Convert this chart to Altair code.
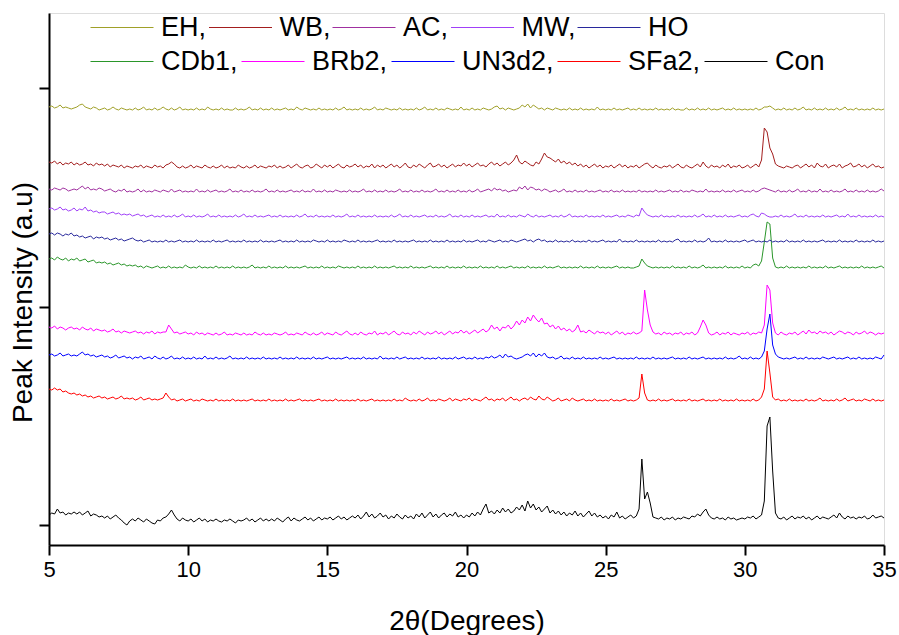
import altair as alt
import pandas as pd

# ---- data (x grid 5.0..35.0 step 0.1) ----
series_names = ["EH", "WB", "AC", "MW", "HO", "CDb1", "BRb2", "UN3d2", "SFa2", "Con"]
series_colors = ["#A0A028", "#A31E1E", "#A030A0", "#A040F8", "#28289C",
                 "#2A962A", "#FF00FF", "#0000FF", "#FF0000", "#000000"]
# stacking offsets of each pattern (a.u.)
offsets = [415, 357, 333, 308, 283, 257, 190, 166, 124, 4]
x_start = 5.0
x_step = 0.1
x_ticks = [5, 10, 15, 20, 25, 30, 35]
y_ticks = [0, 218, 437]

EH = [
    3, 4, 2, 3, 5, 2, 3, 2, 1, 2,   # 5
    3, 5, 6, 3, 2, 1, 3, 2, 0, 1,   # 6
    2, 0, 1, 3, 1, 0, 2, 1, 0, 1,   # 7
    0, 2, 0, 1, 3, 0, 1, 0, 2, 0,   # 8
    1, 3, 1, 0, 2, 0, 1, 3, 0, 1,   # 9
    0, 1, 0, 2, 0, 1, 0, 3, 1, 0,   # 10
    1, 0, 2, 0, 1, 0, 0, 2, 0, 1,   # 11
    0, 1, 3, 0, 1, 0, 2, 0, 1, 0,   # 12
    2, 0, 1, 0, 1, 2, 0, 1, 0, 3,   # 13
    1, 0, 2, 1, 0, 1, 0, 2, 0, 1,   # 14
    0, 1, 0, 2, 0, 1, 3, 0, 1, 0,   # 15
    1, 0, 2, 0, 1, 0, 1, 3, 0, 1,   # 16
    0, 2, 1, 0, 1, 0, 2, 0, 1, 0,   # 17
    1, 0, 2, 0, 1, 3, 0, 1, 0, 2,   # 18
    0, 1, 0, 2, 1, 0, 1, 0, 3, 0,   # 19
    1, 0, 2, 0, 1, 0, 2, 1, 0, 1,   # 20
    3, 4, 1, 2, 0, 2, 1, 0, 1, 2,   # 21
    5, 3, 6, 2, 5, 3, 1, 2, 0, 2,   # 22
    1, 0, 2, 1, 0, 1, 0, 2, 0, 1,   # 23
    0, 2, 0, 1, 0, 1, 0, 3, 0, 1,   # 24
    0, 1, 0, 2, 0, 1, 0, 1, 2, 0,   # 25
    1, 0, 2, 0, 1, 0, 1, 0, 2, 0,   # 26
    1, 0, 1, 0, 2, 0, 1, 0, 0, 2,   # 27
    0, 1, 0, 2, 0, 1, 0, 2, 0, 1,   # 28
    0, 1, 2, 0, 1, 0, 2, 0, 1, 0,   # 29
    1, 0, 1, 0, 2, 0, 1, 3, 3, 4,   # 30
    2, 0, 1, 0, 2, 0, 1, 0, 2, 0,   # 31
    1, 3, 0, 1, 0, 2, 0, 1, 0, 2,   # 32
    0, 1, 0, 2, 0, 1, 3, 0, 1, 0,   # 33
    2, 0, 1, 0, 1, 0, 2, 0, 1, 0,   # 34
    1,                              # 35
]

WB = [
    6, 5, 7, 4, 6, 3, 5, 4, 6, 3,
    5, 3, 4, 6, 3, 4, 2, 5, 3, 4,
    2, 4, 1, 3, 2, 1, 3, 0, 2, 1,
    0, 2, 1, 3, 0, 2, 1, 0, 3, 1,
    2, 0, 3, 4, 6, 4, 1, 0, 2, 0,
    1, 3, 0, 2, 1, 0, 3, 1, 0, 2,
    0, 1, 3, 0, 2, 0, 1, 0, 3, 1,
    0, 2, 0, 1, 3, 0, 2, 1, 0, 2,
    1, 3, 0, 2, 0, 1, 3, 0, 2, 4,
    1, 0, 2, 3, 0, 1, 4, 2, 0, 3,
    1, 3, 0, 2, 4, 1, 0, 3, 1, 2,
    4, 1, 3, 0, 2, 1, 4, 0, 3, 1,
    3, 0, 2, 4, 1, 3, 0, 2, 5, 1,
    0, 3, 1, 4, 2, 0, 3, 5, 1, 2,
    4, 1, 3, 0, 2, 4, 1, 3, 2, 5,
    2, 4, 1, 3, 5, 2, 3, 1, 4, 6,
    3, 5, 2, 4, 6, 3, 5, 8, 13, 6,
    4, 7, 5, 3, 2, 6, 4, 9, 15, 11,
    10, 8, 6, 9, 5, 7, 4, 6, 3, 5,
    2, 4, 1, 3, 0, 2, 4, 1, 3, 0,
    2, 1, 3, 0, 2, 4, 1, 3, 0, 2,
    1, 3, 0, 2, 4, 5, 2, 0, 3, 1,
    0, 2, 1, 3, 0, 2, 4, 1, 0, 3,
    1, 0, 2, 4, 1, 6, 2, 0, 3, 1,
    2, 0, 3, 1, 4, 0, 2, 1, 3, 0,
    1, 3, 0, 2, 4, 1, 8, 40, 36, 20,
    14, 4, 2, 1, 0, 2, 1, 0, 2, 3,
    0, 2, 4, 1, 3, 0, 5, 2, 1, 4,
    0, 2, 3, 1, 4, 0, 2, 3, 5, 1,
    2, 4, 1, 3, 0, 2, 4, 1, 2, 0,
    1,
]

AC = [
    3, 2, 4, 3, 2, 4, 3, 1, 2, 3,
    2, 4, 6, 3, 5, 2, 3, 2, 4, 3,
    1, 2, 3, 1, 0, 2, 1, 3, 0, 1,
    0, 1, 3, 0, 2, 0, 1, 0, 2, 1,
    0, 2, 1, 0, 3, 0, 1, 2, 0, 1,
    0, 1, 0, 3, 0, 1, 0, 2, 0, 1,
    2, 0, 1, 0, 1, 3, 0, 1, 0, 2,
    0, 1, 0, 2, 0, 1, 0, 1, 3, 0,
    1, 0, 2, 0, 1, 0, 1, 2, 0, 1,
    0, 2, 0, 1, 0, 3, 0, 1, 0, 2,
    0, 1, 0, 2, 1, 0, 1, 0, 2, 0,
    1, 0, 1, 3, 0, 1, 0, 2, 0, 1,
    0, 2, 0, 1, 0, 1, 3, 0, 1, 0,
    2, 0, 1, 0, 2, 0, 1, 0, 1, 3,
    0, 1, 0, 2, 0, 1, 0, 2, 0, 1,
    0, 2, 0, 1, 3, 0, 1, 2, 3, 1,
    4, 2, 3, 1, 2, 0, 1, 2, 1, 5,
    3, 6, 2, 5, 4, 2, 3, 1, 3, 2,
    0, 1, 2, 0, 1, 3, 0, 1, 0, 2,
    0, 1, 0, 2, 0, 1, 0, 1, 2, 0,
    1, 0, 2, 0, 1, 0, 2, 0, 1, 0,
    1, 0, 2, 0, 1, 0, 1, 0, 2, 0,
    1, 0, 1, 2, 0, 1, 0, 2, 0, 1,
    0, 2, 1, 0, 1, 0, 3, 0, 1, 0,
    1, 0, 2, 0, 1, 0, 2, 0, 1, 2,
    0, 1, 0, 2, 0, 1, 3, 4, 3, 2,
    1, 0, 2, 0, 1, 0, 2, 0, 1, 3,
    0, 1, 0, 2, 0, 1, 0, 3, 0, 1,
    0, 2, 0, 1, 0, 1, 3, 0, 1, 0,
    2, 0, 1, 0, 2, 0, 1, 0, 1, 3,
    1,
]

MW = [
    8, 9, 7, 8, 10, 7, 8, 6, 7, 9,
    6, 8, 7, 10, 6, 7, 5, 6, 4, 5,
    5, 3, 4, 5, 3, 4, 2, 3, 2, 3,
    1, 2, 3, 1, 2, 0, 1, 2, 0, 1,
    0, 2, 0, 1, 0, 2, 0, 1, 3, 0,
    1, 0, 2, 0, 1, 0, 1, 3, 0, 1,
    0, 2, 0, 1, 0, 1, 0, 2, 0, 1,
    3, 0, 1, 0, 2, 0, 1, 0, 1, 2,
    0, 1, 0, 2, 0, 1, 0, 1, 0, 2,
    0, 1, 3, 0, 1, 0, 2, 0, 1, 0,
    1, 0, 2, 0, 1, 0, 1, 3, 0, 1,
    0, 2, 0, 1, 0, 1, 0, 2, 0, 1,
    0, 1, 0, 2, 0, 1, 3, 0, 1, 0,
    2, 0, 1, 0, 1, 2, 0, 1, 0, 2,
    0, 1, 0, 1, 3, 0, 1, 0, 2, 0,
    1, 0, 2, 0, 1, 0, 1, 2, 0, 1,
    0, 3, 0, 1, 0, 2, 0, 1, 0, 2,
    1, 0, 3, 1, 0, 2, 0, 1, 0, 1,
    2, 0, 1, 0, 2, 0, 1, 3, 0, 1,
    0, 1, 0, 2, 0, 1, 0, 1, 0, 2,
    0, 1, 0, 1, 2, 0, 1, 0, 2, 1,
    0, 2, 1, 9, 5, 2, 1, 0, 1, 0,
    2, 0, 1, 0, 1, 0, 2, 0, 1, 0,
    1, 0, 2, 0, 1, 3, 0, 1, 0, 2,
    0, 1, 0, 2, 0, 1, 0, 1, 2, 0,
    1, 0, 2, 3, 1, 0, 4, 3, 1, 0,
    0, 1, 0, 2, 0, 1, 0, 1, 3, 0,
    1, 0, 2, 0, 1, 0, 1, 0, 2, 0,
    1, 0, 1, 2, 0, 1, 0, 3, 0, 1,
    0, 2, 0, 1, 0, 1, 0, 2, 0, 1,
    0,
]

HO = [
    8, 9, 7, 9, 8, 6, 8, 7, 9, 6,
    7, 5, 6, 4, 5, 6, 3, 5, 4, 5,
    3, 4, 2, 3, 4, 2, 3, 1, 2, 3,
    4, 2, 1, 2, 0, 1, 2, 0, 1, 0,
    1, 0, 2, 0, 1, 0, 1, 2, 0, 1,
    0, 1, 0, 2, 0, 1, 0, 1, 0, 2,
    0, 1, 0, 1, 2, 0, 1, 0, 1, 0,
    2, 0, 1, 0, 1, 0, 2, 0, 1, 0,
    1, 0, 1, 2, 0, 1, 0, 1, 0, 2,
    0, 1, 0, 1, 0, 2, 1, 0, 1, 0,
    2, 0, 1, 0, 1, 0, 2, 1, 0, 1,
    0, 2, 0, 1, 0, 1, 0, 1, 2, 0,
    1, 0, 1, 0, 2, 0, 1, 0, 1, 0,
    1, 2, 0, 1, 0, 1, 0, 2, 0, 1,
    0, 1, 0, 2, 0, 1, 0, 1, 0, 2,
    0, 1, 0, 1, 2, 0, 1, 0, 2, 1,
    0, 1, 2, 0, 1, 0, 2, 1, 0, 1,
    2, 3, 1, 2, 0, 2, 3, 1, 2, 0,
    1, 0, 2, 0, 1, 0, 1, 0, 2, 0,
    1, 0, 1, 0, 2, 0, 1, 0, 1, 2,
    0, 1, 0, 1, 0, 3, 0, 1, 0, 1,
    0, 2, 0, 1, 0, 1, 0, 1, 0, 2,
    0, 1, 0, 1, 0, 2, 3, 0, 1, 0,
    1, 0, 2, 0, 1, 0, 1, 4, 0, 1,
    0, 1, 0, 2, 0, 1, 0, 1, 0, 1,
    2, 0, 1, 2, 0, 1, 0, 1, 0, 2,
    0, 1, 0, 1, 0, 2, 0, 1, 0, 1,
    0, 2, 0, 1, 0, 1, 0, 1, 2, 0,
    1, 0, 1, 0, 2, 0, 1, 0, 1, 0,
    2, 0, 1, 0, 1, 0, 2, 0, 1, 0,
    1,
]

CDb1 = [
    9, 10, 8, 11, 9, 8, 10, 7, 9, 8,
    10, 7, 8, 9, 6, 7, 8, 5, 6, 5,
    6, 4, 5, 3, 4, 5, 3, 4, 2, 3,
    2, 3, 1, 2, 0, 2, 1, 0, 1, 2,
    0, 1, 0, 2, 0, 1, 0, 1, 0, 3,
    1, 0, 1, 0, 2, 0, 1, 0, 1, 0,
    2, 0, 1, 0, 1, 0, 2, 0, 1, 0,
    1, 0, 1, 3, 0, 1, 0, 1, 0, 2,
    0, 1, 0, 1, 0, 2, 0, 1, 0, 1,
    0, 1, 2, 0, 1, 0, 1, 0, 2, 0,
    1, 0, 1, 0, 2, 1, 0, 1, 0, 1,
    0, 2, 0, 1, 0, 1, 0, 2, 0, 1,
    0, 1, 0, 1, 2, 0, 1, 0, 1, 0,
    2, 0, 1, 0, 1, 0, 1, 2, 0, 1,
    0, 1, 0, 2, 0, 1, 0, 1, 0, 2,
    0, 1, 0, 1, 0, 2, 0, 1, 0, 1,
    0, 2, 0, 1, 0, 1, 2, 0, 1, 0,
    1, 0, 2, 0, 1, 0, 1, 0, 2, 0,
    1, 0, 1, 2, 0, 1, 0, 1, 0, 1,
    0, 2, 0, 1, 0, 1, 0, 2, 0, 1,
    0, 1, 0, 1, 2, 0, 1, 0, 1, 0,
    0, 1, 2, 9, 5, 2, 1, 0, 1, 0,
    1, 0, 1, 0, 2, 0, 1, 0, 1, 0,
    2, 0, 1, 0, 1, 3, 0, 1, 0, 1,
    0, 1, 0, 2, 0, 1, 0, 1, 0, 2,
    0, 1, 0, 3, 4, 2, 7, 26, 46, 44,
    10, 1, 0, 1, 0, 2, 0, 1, 0, 1,
    0, 1, 0, 2, 0, 1, 0, 1, 0, 2,
    0, 1, 0, 1, 2, 0, 1, 0, 1, 0,
    1, 0, 2, 0, 1, 0, 1, 0, 1, 2,
    0,
]

BRb2 = [
    8, 7, 9, 6, 8, 7, 5, 7, 8, 6,
    7, 5, 8, 6, 5, 7, 4, 6, 5, 4,
    5, 3, 4, 6, 3, 4, 2, 4, 3, 2,
    3, 4, 2, 3, 1, 3, 2, 4, 1, 3,
    2, 3, 3, 10, 6, 2, 3, 1, 2, 3,
    1, 2, 0, 3, 1, 2, 0, 2, 1, 0,
    2, 0, 1, 3, 0, 1, 0, 2, 1, 0,
    2, 0, 1, 0, 3, 1, 0, 2, 0, 1,
    0, 2, 1, 0, 1, 3, 0, 1, 0, 2,
    1, 0, 3, 1, 0, 2, 0, 1, 3, 0,
    2, 1, 0, 3, 1, 0, 2, 4, 1, 0,
    2, 0, 3, 1, 0, 2, 1, 4, 0, 2,
    1, 3, 0, 2, 4, 1, 0, 3, 1, 2,
    0, 3, 1, 4, 2, 0, 3, 1, 2, 4,
    1, 3, 0, 2, 4, 1, 3, 2, 5, 2,
    4, 1, 3, 5, 2, 4, 6, 3, 5, 10,
    6, 8, 4, 8, 7, 10, 6, 9, 14, 10,
    15, 12, 18, 14, 20, 16, 13, 17, 11, 12,
    8, 10, 6, 9, 5, 7, 4, 6, 3, 5,
    10, 3, 4, 2, 5, 3, 1, 4, 2, 3,
    1, 3, 0, 2, 4, 1, 3, 0, 2, 1,
    3, 1, 2, 4, 45, 25, 10, 3, 1, 2,
    0, 3, 1, 2, 0, 2, 1, 3, 0, 2,
    1, 3, 0, 2, 8, 15, 10, 2, 0, 1,
    3, 0, 2, 1, 3, 0, 2, 1, 0, 2,
    1, 3, 0, 2, 1, 3, 2, 10, 50, 45,
    12, 2, 0, 3, 1, 0, 2, 1, 3, 0,
    2, 4, 1, 5, 2, 3, 1, 4, 2, 3,
    1, 3, 0, 2, 4, 3, 1, 3, 2, 0,
    3, 1, 2, 4, 1, 3, 2, 0, 2, 1,
    2,
]

UN3d2 = [
    4, 5, 3, 4, 6, 3, 4, 5, 3, 4,
    3, 5, 7, 4, 5, 3, 4, 2, 3, 4,
    2, 3, 1, 2, 4, 1, 2, 3, 1, 2,
    0, 2, 1, 3, 0, 1, 2, 0, 3, 1,
    0, 2, 0, 1, 3, 0, 1, 0, 2, 0,
    1, 0, 2, 0, 1, 0, 3, 0, 1, 0,
    2, 0, 1, 0, 1, 3, 0, 1, 0, 1,
    0, 2, 0, 1, 0, 1, 0, 2, 0, 1,
    0, 1, 0, 2, 0, 1, 0, 1, 0, 2,
    0, 1, 0, 1, 0, 2, 0, 1, 0, 1,
    2, 0, 1, 0, 1, 0, 1, 2, 0, 1,
    0, 1, 0, 2, 0, 1, 0, 1, 0, 3,
    0, 1, 0, 1, 0, 2, 0, 1, 2, 0,
    1, 0, 1, 0, 2, 0, 1, 0, 1, 0,
    2, 0, 1, 0, 1, 0, 2, 0, 1, 2,
    0, 1, 0, 2, 0, 1, 0, 2, 1, 3,
    1, 2, 4, 1, 5, 2, 3, 1, 0, 1,
    2, 4, 5, 3, 6, 2, 5, 3, 6, 2,
    1, 2, 0, 1, 3, 0, 1, 0, 2, 0,
    1, 0, 2, 0, 1, 0, 1, 0, 2, 0,
    1, 0, 1, 2, 0, 1, 0, 1, 0, 1,
    0, 2, 0, 1, 0, 1, 0, 2, 0, 1,
    0, 1, 0, 1, 2, 0, 1, 0, 1, 0,
    2, 0, 1, 0, 1, 2, 0, 1, 0, 1,
    0, 1, 0, 2, 0, 1, 0, 1, 3, 0,
    1, 0, 2, 0, 1, 0, 2, 8, 30, 45,
    14, 5, 2, 1, 0, 1, 0, 1, 2, 0,
    1, 0, 2, 0, 1, 0, 1, 0, 2, 1,
    0, 1, 2, 0, 1, 0, 1, 2, 0, 1,
    0, 2, 0, 1, 0, 1, 0, 2, 1, 0,
    4,
]

SFa2 = [
    12, 11, 13, 11, 12, 9, 10, 8, 7, 8,
    6, 7, 5, 6, 4, 5, 3, 4, 5, 3,
    4, 2, 3, 4, 2, 3, 5, 2, 3, 2,
    3, 1, 2, 4, 1, 2, 3, 1, 2, 1,
    2, 3, 8, 4, 1, 2, 0, 1, 2, 0,
    1, 2, 0, 1, 0, 2, 1, 0, 1, 0,
    2, 0, 1, 0, 1, 0, 2, 0, 1, 0,
    1, 0, 1, 2, 0, 1, 0, 1, 0, 2,
    0, 1, 0, 1, 0, 2, 0, 1, 0, 1,
    2, 0, 1, 0, 1, 0, 1, 2, 0, 1,
    0, 1, 0, 2, 0, 1, 0, 1, 0, 1,
    0, 2, 0, 1, 0, 1, 2, 0, 1, 0,
    1, 0, 1, 0, 2, 0, 1, 0, 3, 1,
    0, 1, 0, 2, 0, 1, 3, 0, 1, 0,
    2, 1, 0, 1, 3, 0, 2, 1, 0, 2,
    1, 3, 0, 2, 1, 0, 2, 4, 1, 2,
    0, 2, 1, 3, 0, 2, 4, 1, 2, 0,
    2, 3, 1, 4, 2, 1, 5, 2, 1, 4,
    2, 0, 1, 3, 0, 1, 2, 0, 3, 1,
    0, 1, 2, 0, 1, 0, 2, 0, 1, 0,
    1, 0, 2, 0, 1, 0, 1, 2, 0, 1,
    0, 1, 3, 27, 8, 1, 0, 1, 0, 2,
    0, 1, 0, 1, 2, 0, 1, 0, 1, 0,
    2, 0, 1, 0, 1, 2, 0, 1, 0, 1,
    0, 2, 0, 1, 0, 1, 0, 2, 0, 1,
    0, 1, 0, 2, 0, 1, 4, 12, 50, 28,
    4, 1, 2, 0, 1, 0, 2, 0, 1, 0,
    1, 0, 2, 0, 1, 0, 1, 3, 0, 1,
    0, 1, 0, 2, 0, 1, 3, 0, 1, 2,
    0, 1, 0, 2, 1, 0, 2, 0, 1, 0,
    1,
]

Con = [
    6, 8, 7, 12, 8, 9, 6, 8, 7, 9,
    7, 9, 6, 8, 10, 5, 7, 6, 4, 5,
    3, 5, 2, 4, 6, 3, 1, -2, -4, 0,
    2, 0, 3, 1, -1, 2, 0, -2, -3, 1,
    0, 3, 4, 7, 11, 6, 2, 0, 3, 1,
    0, 2, -1, 1, 3, 0, 2, -1, 1, 0,
    2, 0, -1, 1, 0, 2, 0, -2, 1, 0,
    1, 3, 0, 2, -1, 1, 3, 0, 2, 0,
    2, 0, 3, 1, -1, 2, 4, 0, 3, 1,
    0, 2, 4, 1, 3, 0, 2, 4, 1, 3,
    2, 4, 1, 3, 5, 2, 4, 1, 3, 5,
    3, 6, 2, 5, 9, 4, 7, 3, 5, 8,
    4, 6, 2, 5, 3, 7, 4, 2, 6, 3,
    5, 2, 7, 4, 8, 3, 6, 9, 4, 7,
    3, 6, 8, 4, 7, 5, 9, 4, 6, 3,
    6, 4, 8, 5, 9, 6, 12, 17, 8, 10,
    7, 11, 8, 13, 9, 12, 8, 10, 14, 11,
    16, 10, 20, 13, 17, 11, 14, 9, 12, 15,
    8, 11, 7, 10, 6, 9, 5, 8, 6, 10,
    5, 8, 4, 7, 10, 5, 8, 4, 6, 3,
    5, 2, 6, 4, 9, 3, 5, 2, 4, 6,
    3, 5, 12, 62, 22, 29, 18, 4, 3, 2,
    4, 1, 3, 2, 4, 1, 3, 2, 4, 3,
    2, 5, 4, 7, 5, 9, 12, 6, 3, 2,
    4, 2, 3, 1, 4, 2, 3, 1, 2, 3,
    2, 4, 3, 5, 2, 4, 6, 20, 95, 104,
    50, 8, 3, 2, 4, 1, 3, 5, 2, 4,
    3, 5, 2, 4, 1, 3, 5, 2, 4, 3,
    2, 4, 6, 3, 8, 4, 2, 5, 3, 4,
    2, 4, 3, 5, 2, 3, 6, 3, 4, 5,
    3,
]

series_values = [EH, WB, AC, MW, HO, CDb1, BRb2, UN3d2, SFa2, Con]

rows = []
for name, off, vals in zip(series_names, offsets, series_values):
    assert len(vals) == 301, (name, len(vals))
    for i, v in enumerate(vals):
        rows.append({
            "two_theta": round(x_start + x_step * i, 2),
            "intensity": off + v,
            "sample": name,
        })
df = pd.DataFrame(rows)

FONT = "Liberation Sans"
LABEL_EXPR = "datum.label == 'HO' || datum.label == 'Con' ? datum.label : datum.label + ','"

x_enc = alt.X("two_theta:Q",
              scale=alt.Scale(domain=[5, 35], nice=False, zero=False),
              axis=alt.Axis(values=x_ticks, format="d", title="2θ(Degrees)",
                            grid=False, labelFlush=False,
                            tickSize=10, tickWidth=2, domainWidth=2,
                            tickColor="black", domainColor="black",
                            labelColor="black", titleColor="black",
                            labelFont=FONT, titleFont=FONT,
                            labelFontSize=22, labelPadding=4,
                            titleFontSize=28, titleFontWeight="normal",
                            titlePadding=27))
y_enc = alt.Y("intensity:Q",
              scale=alt.Scale(domain=[-20, 512], nice=False, zero=False),
              axis=alt.Axis(values=y_ticks, labels=False, title="Peak Intensity (a.u)",
                            grid=False, tickSize=10, tickWidth=2, domainWidth=2,
                            tickColor="black", domainColor="black",
                            titleColor="black", titleFont=FONT,
                            titleFontSize=28, titleFontWeight="normal",
                            titleX=-26, titleY=289, titleBaseline="middle"))


def legend_row(legend_y, col_pad):
    # five entries in five columns -> one row laid out left to right
    return alt.Legend(
        orient="none", legendX=41, legendY=legend_y,
        columns=5,
        symbolType="stroke", symbolSize=3969, symbolStrokeWidth=1,
        labelFont=FONT, labelFontSize=27, labelColor="black",
        labelOffset=7, columnPadding=col_pad, padding=0,
        title=None, labelExpr=LABEL_EXPR,
    )


row1 = series_names[:5]
row2 = series_names[5:]
colors1 = series_colors[:5]
colors2 = series_colors[5:]

# upper legend row: samples EH..HO (stroke channel)
layer1 = alt.Chart(df).transform_filter(
    alt.FieldOneOfPredicate(field="sample", oneOf=row1)
).mark_line(strokeWidth=1).encode(
    x=x_enc, y=y_enc,
    stroke=alt.Stroke("sample:N", scale=alt.Scale(domain=row1, range=colors1),
                      legend=legend_row(-17.5, -0.5)),
)

# lower legend row: samples CDb1..Con (color channel)
layer2 = alt.Chart(df).transform_filter(
    alt.FieldOneOfPredicate(field="sample", oneOf=row2)
).mark_line(strokeWidth=1).encode(
    x=x_enc, y=y_enc,
    color=alt.Color("sample:N", scale=alt.Scale(domain=row2, range=colors2),
                    legend=legend_row(16.5, 1)),
)

chart = alt.layer(layer2, layer1).properties(
    width=835,
    height=532,
    autosize=alt.AutoSizeParams(type="none"),
    padding={"left": 49, "top": 13, "right": 15, "bottom": 90},
).configure_view(stroke=None).configure(background="white")

chart.save("out.html", embed_options={"renderer": "svg", "actions": False})
